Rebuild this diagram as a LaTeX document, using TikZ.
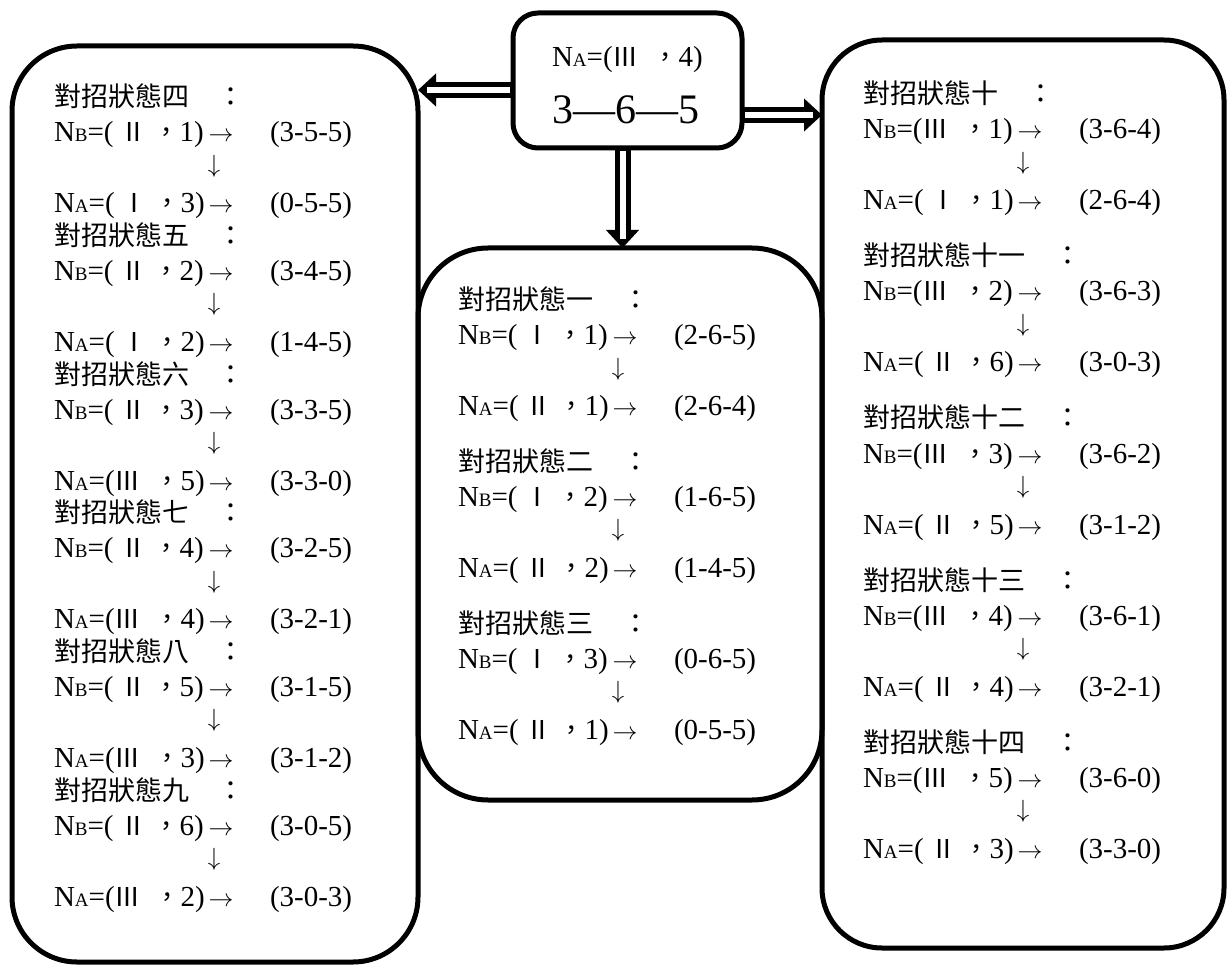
\documentclass[tikz,border=0pt]{standalone}
\usepackage{fontspec}
\setmainfont{Liberation Serif}
\newfontfamily\cjk{Noto Sans CJK TC}
\usetikzlibrary{arrows.meta}
\newcommand\rnc[1]{\makebox[40pt][c]{\cjk\fontsize{26}{30}\selectfont #1}}
\newcommand\rnl[1]{\makebox[40pt][l]{\cjk\fontsize{26}{30}\selectfont #1}}
\newcommand\lab[3]{N{\fontsize{19}{19}\selectfont #1}=(#2{\cjk\fontsize{26}{30}\selectfont ，}#3)}
\newcommand\hdtext[1]{#1\hspace{29pt}：}
\newcommand\rarr{{\fontsize{24}{24}\selectfont$\rightarrow$}}
\newcommand\darr{{\fontsize{27}{27}\selectfont$\downarrow$}}
\newcommand\mvrow[5]{%
  \node[tx] (#1l) at (#2,#3+9) {#4};
  \node[tx, anchor=base] (#1a) at (#2+167,#3+9) {\rarr};
  \node[tx] (#1t) at (#2+216,#3+9) {#5};}
\newcommand\stateblk[8]{%
  \node[hdr] (#1h) at (#2,#3+10) {\hdtext{#4}};
  \mvrow{#1b}{#2}{#3+36}{#5}{#6}
  \node[tx, anchor=center] (#1d) at (#2+160,#3+69) {\darr};
  \mvrow{#1a}{#2}{#3+107}{#7}{#8}}
\tikzset{
  tx/.style={inner sep=0pt, outer sep=0pt, font=\fontsize{29}{32}\selectfont, anchor=base west},
  hdr/.style={inner sep=0pt, outer sep=0pt, font=\cjk\fontsize{27}{30}\selectfont, anchor=base west},
  box/.style={draw, line width=5pt, inner sep=0pt, outer sep=0pt, rectangle},
  dblarrow/.style={line width=16pt, -{Triangle[length=18pt,width=32pt]},
    postaction={draw=white, line width=6pt, -, shorten >=9pt, shorten <=3pt}}
}
\begin{document}
\begin{tikzpicture}[x=1pt,y=-1pt]
\useasboundingbox (0,0) rectangle (1229,965);
% boxes
\node[box, rounded corners=25pt, minimum width=229pt, minimum height=135pt] (T) at (627.5,80.5) {};
\node[box, rounded corners=65pt, minimum width=406pt, minimum height=916pt] (L) at (215,504) {};
\node[box, rounded corners=70pt, minimum width=404pt, minimum height=552pt] (M) at (620,524) {};
\node[box, rounded corners=60pt, minimum width=402pt, minimum height=908pt] (R) at (1023,494) {};
% connectors
\coordinate (la) at ([yshift=-9.5pt]T.west);
\coordinate (ra) at ([yshift=-34.5pt]T.east);
\coordinate (da) at ([xshift=-5pt]T.south);
\draw[dblarrow] (la) -- (la -| L.east);
\draw[dblarrow] (ra) -- (ra -| R.west);
\draw[dblarrow] (da) -- (da |- M.north);
% top box text
\node[tx] (t1) at (552,67) {\lab{A}{\rnl{Ⅲ}}{4}};
\node[tx, anchor=base, font=\fontsize{42}{44}\selectfont] (t2) at (626,124) {3—6—5};
% left box
\stateblk{s4}{54}{97}{對招狀態四}{\lab{B}{\rnc{Ⅱ}}{1}}{(3-5-5)}{\lab{A}{\rnc{Ⅰ}}{3}}{(0-5-5)}
\stateblk{s5}{54}{235.6}{對招狀態五}{\lab{B}{\rnc{Ⅱ}}{2}}{(3-4-5)}{\lab{A}{\rnc{Ⅰ}}{2}}{(1-4-5)}
\stateblk{s6}{54}{374.2}{對招狀態六}{\lab{B}{\rnc{Ⅱ}}{3}}{(3-3-5)}{\lab{A}{\rnl{Ⅲ}}{5}}{(3-3-0)}
\stateblk{s7}{54}{512.8}{對招狀態七}{\lab{B}{\rnc{Ⅱ}}{4}}{(3-2-5)}{\lab{A}{\rnl{Ⅲ}}{4}}{(3-2-1)}
\stateblk{s8}{54}{651.4}{對招狀態八}{\lab{B}{\rnc{Ⅱ}}{5}}{(3-1-5)}{\lab{A}{\rnl{Ⅲ}}{3}}{(3-1-2)}
\stateblk{s9}{54}{790}{對招狀態九}{\lab{B}{\rnc{Ⅱ}}{6}}{(3-0-5)}{\lab{A}{\rnl{Ⅲ}}{2}}{(3-0-3)}
% middle box
\stateblk{s1}{458}{300}{對招狀態一}{\lab{B}{\rnc{Ⅰ}}{1}}{(2-6-5)}{\lab{A}{\rnc{Ⅱ}}{1}}{(2-6-4)}
\stateblk{s2}{458}{461.5}{對招狀態二}{\lab{B}{\rnc{Ⅰ}}{2}}{(1-6-5)}{\lab{A}{\rnc{Ⅱ}}{2}}{(1-4-5)}
\stateblk{s3}{458}{623}{對招狀態三}{\lab{B}{\rnc{Ⅰ}}{3}}{(0-6-5)}{\lab{A}{\rnc{Ⅱ}}{1}}{(0-5-5)}
% right box
\stateblk{s10}{863}{94}{對招狀態十}{\lab{B}{\rnl{Ⅲ}}{1}}{(3-6-4)}{\lab{A}{\rnc{Ⅰ}}{1}}{(2-6-4)}
\stateblk{s11}{863}{256}{對招狀態十一}{\lab{B}{\rnl{Ⅲ}}{2}}{(3-6-3)}{\lab{A}{\rnc{Ⅱ}}{6}}{(3-0-3)}
\stateblk{s12}{863}{418}{對招狀態十二}{\lab{B}{\rnl{Ⅲ}}{3}}{(3-6-2)}{\lab{A}{\rnc{Ⅱ}}{5}}{(3-1-2)}
\stateblk{s13}{863}{580}{對招狀態十三}{\lab{B}{\rnl{Ⅲ}}{4}}{(3-6-1)}{\lab{A}{\rnc{Ⅱ}}{4}}{(3-2-1)}
\stateblk{s14}{863}{742}{對招狀態十四}{\lab{B}{\rnl{Ⅲ}}{5}}{(3-6-0)}{\lab{A}{\rnc{Ⅱ}}{3}}{(3-3-0)}
\end{tikzpicture}
\end{document}
